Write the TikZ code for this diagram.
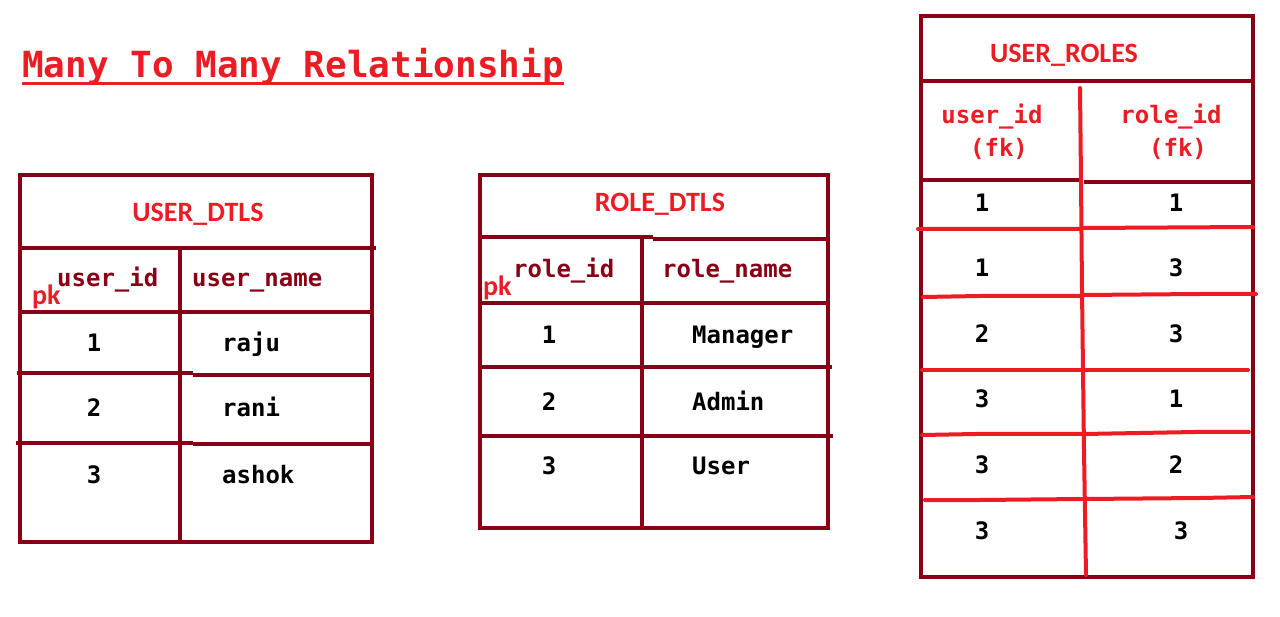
\documentclass[tikz,border=0pt]{standalone}
\usepackage{fontspec}
\setmonofont{DejaVu Sans Mono}
\newfontfamily\hdrbold{Carlito Bold}
\definecolor{dred}{HTML}{880015}
\definecolor{bred}{HTML}{ED1C24}
\begin{document}
\begin{tikzpicture}[x=1pt,y=-1pt,
  frame/.style={draw=dred,line width=4pt},
  redline/.style={draw=bred,line width=4pt,line cap=round,line join=round},
  ttlstyle/.style={text=bred,font=\fontsize{36}{36}\selectfont\ttfamily\bfseries,anchor=base west,inner sep=0pt},
  hdr/.style={text=bred,font=\fontsize{28}{28}\selectfont\hdrbold,anchor=base,inner sep=0pt},
  pkl/.style={text=bred,font=\fontsize{28}{28}\selectfont\hdrbold,anchor=base west,inner sep=0pt},
  colname/.style={text=dred,font=\fontsize{24}{24}\selectfont\ttfamily\bfseries,anchor=base west,inner sep=0pt},
  fkname/.style={text=bred,font=\fontsize{24}{24}\selectfont\ttfamily\bfseries,anchor=base,inner sep=0pt},
  cell/.style={text=black,font=\fontsize{24}{24}\selectfont\ttfamily\bfseries,anchor=base,inner sep=0pt},
  cellw/.style={cell,anchor=base west}
]
\useasboundingbox (0,0) rectangle (1280,617);
\fill[white] (0,0) rectangle (1280,617);

% Title
\node[ttlstyle] (ttl) at (22,78) {Many To Many Relationship};
\draw[bred,line width=3pt] ([yshift=-6pt]ttl.base west) -- ([yshift=-6pt]ttl.base east);

% ---------- USER_DTLS ----------
\draw[frame] (20,175) rectangle (372,542);
\draw[frame] (20,248) -- (376,248);
\draw[frame] (20,312) -- (372,312);
\draw[frame] (17,373) -- (193,373) (193,375) -- (372,375);
\draw[frame] (16,443) -- (193,443) (193,444) -- (372,444);
\draw[frame] (180,248) -- (180,542);
\node[hdr] (udh) at (198,222) {USER\_DTLS};
\node[colname] (udc1) at (57,287) {user\_id};
\node[pkl] (udpk) at (32,305) {pk};
\node[colname] (udc2) at (192,287) {user\_name};
\node[cell] (ud11) at (94,352) {1};
\node[cellw] (ud12) at (222,352) {raju};
\node[cell] (ud21) at (94,417) {2};
\node[cellw] (ud22) at (222,417) {rani};
\node[cell] (ud31) at (94,483) {3};
\node[cellw] (ud32) at (222,483) {ashok};

% ---------- ROLE_DTLS ----------
\draw[frame] (480,175) rectangle (828,528);
\draw[frame] (480,237) -- (653,237) (653,239) -- (828,239);
\draw[frame] (480,303) -- (828,303);
\draw[frame] (480,367) -- (832,367);
\draw[frame] (480,436) -- (833,436);
\draw[frame] (642,238) -- (642,528);
\node[hdr] (rdh) at (660,212) {ROLE\_DTLS};
\node[colname] (rdc1) at (513,278) {role\_id};
\node[pkl] (rdpk) at (483,296) {pk};
\node[colname] (rdc2) at (662,278) {role\_name};
\node[cell] (rd11) at (549,344) {1};
\node[cellw] (rd12) at (692,344) {Manager};
\node[cell] (rd21) at (549,410) {2};
\node[cellw] (rd22) at (692,410) {Admin};
\node[cell] (rd31) at (549,475) {3};
\node[cellw] (rd32) at (692,475) {User};

% ---------- USER_ROLES ----------
\draw[frame] (921,16) rectangle (1253,577);
\draw[frame] (921,81) -- (1253,81);
\draw[frame] (921,180) -- (1082,180) (1084,182) -- (1253,182);
\draw[redline] (1080,88) -- (1081,180) -- (1082,290) -- (1083,370) -- (1084,450) -- (1086,575);
\draw[redline] (918,229) -- (1080,229) (1083,228) -- (1253,227);
\draw[redline] (923,297) -- (980,296) -- (1081,296) (1083,295) -- (1200,294) -- (1256,294);
\draw[redline] (922,370) -- (980,370) -- (1081,370) (1083,370) -- (1248,370);
\draw[redline] (922,435) -- (976,434) -- (1082,434) (1084,434) -- (1195,432) -- (1249,432);
\draw[redline] (925,500) -- (980,500) -- (1082,499) (1085,499) -- (1200,498) -- (1253,497);
\node[hdr] (urh) at (1064,63) {USER\_ROLES};
\node[fkname] (urc1) at (992,124) {user\_id};
\node[fkname] (urc1b) at (999,157) {(fk)};
\node[fkname] (urc2) at (1171,124) {role\_id};
\node[fkname] (urc2b) at (1178,157) {(fk)};
\node[cell] (ur11) at (982,212) {1};
\node[cell] (ur12) at (1176,212) {1};
\node[cell] (ur21) at (982,277) {1};
\node[cell] (ur22) at (1176,277) {3};
\node[cell] (ur31) at (982,343) {2};
\node[cell] (ur32) at (1176,343) {3};
\node[cell] (ur41) at (982,408) {3};
\node[cell] (ur42) at (1176,408) {1};
\node[cell] (ur51) at (982,473) {3};
\node[cell] (ur52) at (1176,473) {2};
\node[cell] (ur61) at (982,539) {3};
\node[cell] (ur62) at (1181,539) {3};
\end{tikzpicture}
\end{document}
